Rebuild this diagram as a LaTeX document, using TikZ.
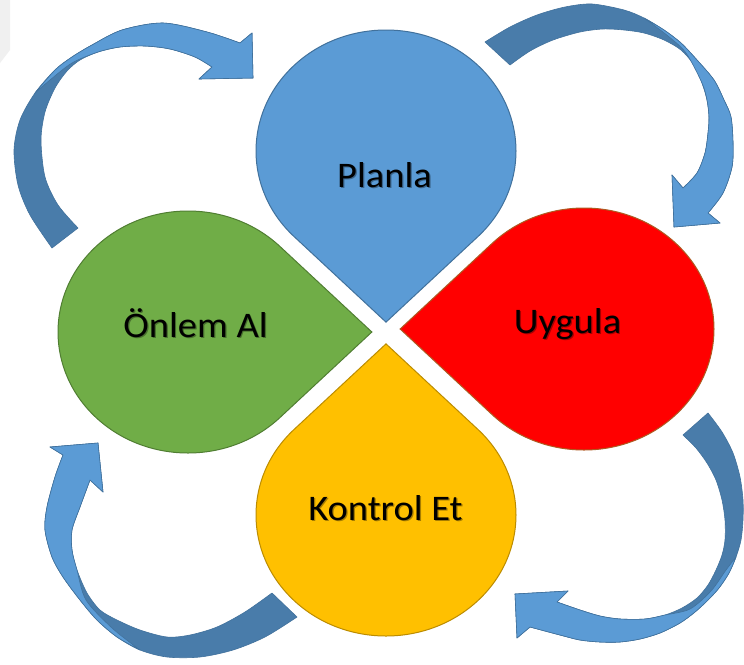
\documentclass[tikz,border=0pt]{standalone}
\usepackage{fontspec}
\setmainfont{Carlito}
\definecolor{dropblue}{HTML}{5B9BD5}
\definecolor{dropblueedge}{HTML}{41719C}
\definecolor{dropgreen}{HTML}{70AD47}
\definecolor{dropgreenedge}{HTML}{507E32}
\definecolor{dropred}{HTML}{FF0000}
\definecolor{droprededge}{HTML}{AE5A21}
\definecolor{dropyellow}{HTML}{FFC000}
\definecolor{dropyellowedge}{HTML}{BC8C00}
\definecolor{arrowfront}{HTML}{5B9BD5}
\definecolor{arrowback}{HTML}{497CAA}
\definecolor{arrowedge}{HTML}{41719C}

% teardrop: centre x, centre y, direction of the point, fill, edge
\newcommand\dropshape[5]{%
  \filldraw[fill=#4,draw=#5,line width=1pt,shift={(#1,#2)},xscale=130,yscale=121]
    (#3:1.41421) -- ({#3+45}:1) arc[start angle={#3+45}, delta angle=270, radius=1] -- cycle;}

% label with a soft shadow: name, x, y (baseline), text
\newcommand\droplabel[4]{%
  \node[lbl, text=black, opacity=0.35] at (#2+1.2,#3+1.2) {\scalebox{1.07}[1]{#4}};
  \node[lbl] (#1) at (#2,#3) {\scalebox{1.07}[1]{#4}};}

\begin{document}
\begin{tikzpicture}[x=1pt,y=-1pt,
  lbl/.style={font=\fontsize{36}{40}\selectfont, anchor=base, inner sep=0pt, text=black},
  backband/.style={fill=arrowback, draw=arrowedge, line width=0.6pt, line join=round},
  frontband/.style={fill=arrowfront, draw=arrowedge, line width=0.6pt, line join=round}]

\useasboundingbox (0,0) rectangle (744,664);
\fill[white] (0,0) rectangle (744,664);
\fill[black!6] (0,0) -- (10,0) -- (10,50) -- (0,63) -- cycle;

% four drops pointing to the centre
\dropshape{386}{151}{90}{dropblue}{dropblueedge}
\dropshape{584}{329}{180}{dropred}{droprededge}
\dropshape{386}{515}{270}{dropyellow}{dropyellowedge}
\dropshape{188}{332}{0}{dropgreen}{dropgreenedge}

\droplabel{planla}{384.5}{187}{Planla}
\droplabel{uygula}{567.5}{333}{Uygula}
\droplabel{kontrol}{385.5}{520}{Kontrol Et}
\droplabel{onlem}{195.5}{337}{Önlem Al}

% curved arrow, top left
\filldraw[backband] plot[smooth] coordinates {(52,248) (30,215) (18,185) (14,150) (20,120) (35,93) (55,70) (72,57) (92,45) (122,30) (163,23) (207,32) (240,43)}
  -- (252,33) -- (253,78) -- (199,79)
  -- plot[smooth] coordinates {(212,67) (195,57) (170,49) (145,46) (120,47) (98,52) (80,60) (67,71) (55,88) (45,112) (41,140) (45,177) (58,205) (78,228)} -- cycle;
\filldraw[frontband] plot[smooth] coordinates {(35,93) (55,70) (72,57) (92,45) (122,30) (163,23) (207,32) (240,43)}
  -- (252,33) -- (253,78) -- (199,79)
  -- plot[smooth] coordinates {(212,67) (195,57) (170,49) (145,46) (120,47) (98,52) (72,63) (50,80) (35,93)} -- cycle;

% curved arrow, top right
\filldraw[backband] plot[smooth] coordinates {(485,42) (510,27) (537,15) (565,7) (592,4) (624,10) (644,18) (664,30) (681,43) (697,60) (714,80) (724,100) (731,117) (733,143) (732,167) (723,193) (708,213)}
  -- (720,223) -- (674,227) -- (672,175)
  -- plot[smooth] coordinates {(683,188) (697,173) (705,153) (708,133) (709,117) (707,100) (702,83) (694,65) (681,50) (664,40) (644,33) (624,30) (603,29) (580,32) (553,40) (530,51) (510,65)} -- cycle;
\filldraw[frontband] plot[smooth] coordinates {(644,18) (664,30) (681,43) (697,60) (714,80) (724,100) (731,117) (733,143) (732,167) (723,193) (708,213)}
  -- (720,223) -- (674,227) -- (672,175)
  -- plot[smooth] coordinates {(683,188) (697,173) (705,153) (708,133) (709,117) (707,100) (702,83) (686,53) (668,36) (644,18)} -- cycle;

% curved arrow, bottom left
\filldraw[backband] plot[smooth] coordinates {(297,617) (265,637) (233,650) (200,657) (167,657) (140,650) (117,637) (97,620) (80,600) (63,577) (52,557) (45,530) (47,507) (55,477) (63,455)}
  -- (50,447) -- (98,443) -- (103,492)
  -- plot[smooth] coordinates {(90,480) (80,507) (72,530) (72,550) (77,570) (87,593) (100,610) (117,620) (140,630) (167,637) (190,635) (217,627) (245,612) (272,593)} -- cycle;
\filldraw[frontband] plot[smooth] coordinates {(140,650) (117,637) (97,620) (80,600) (63,577) (52,557) (45,530) (47,507) (55,477) (63,455)}
  -- (50,447) -- (98,443) -- (103,492)
  -- plot[smooth] coordinates {(90,480) (80,507) (72,530) (72,550) (77,570) (86,600) (112,628) (140,650)} -- cycle;

% curved arrow, bottom right
\filldraw[backband] plot[smooth] coordinates {(708,413) (722,432) (733,453) (740,477) (743,500) (743,520) (741,540) (736,557) (729,573) (719,588) (708,600) (695,612) (680,623) (660,633) (640,639) (620,642) (600,642) (580,640) (560,635) (530,627)}
  -- (517,638) -- (515,594) -- (568,591)
  -- plot[smooth] coordinates {(557,602) (580,610) (600,616) (620,619) (645,619) (665,615) (682,608) (697,598) (708,585) (716,570) (722,555) (725,540) (725,520) (722,500) (716,480) (707,463) (696,448) (683,435)} -- cycle;
\filldraw[frontband] plot[smooth] coordinates {(736,557) (729,573) (719,588) (708,600) (695,612) (680,623) (660,633) (640,639) (620,642) (600,642) (580,640) (560,635) (530,627)}
  -- (517,638) -- (515,594) -- (568,591)
  -- plot[smooth] coordinates {(557,602) (580,610) (600,616) (620,619) (645,619) (665,615) (690,609) (711,591) (726,570) (736,557)} -- cycle;
\end{tikzpicture}
\end{document}
